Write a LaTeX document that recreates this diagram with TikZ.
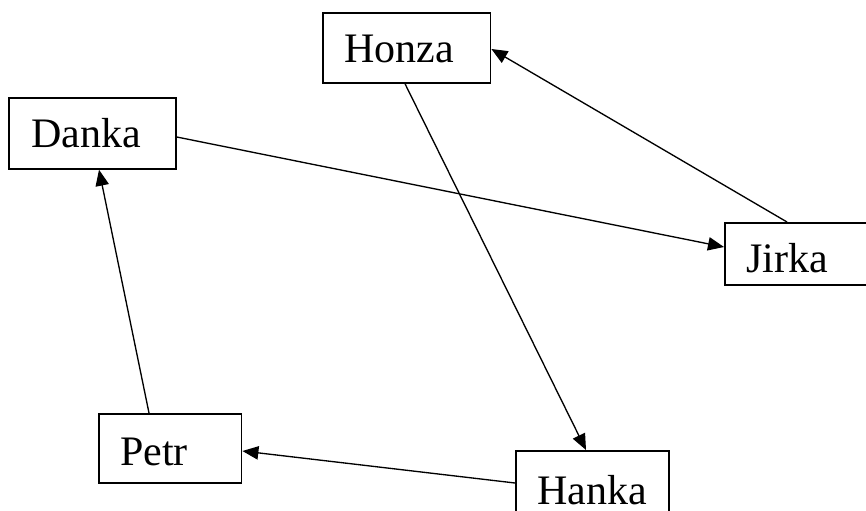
\documentclass[tikz,border=0pt]{standalone}
\usepackage{fontspec}
\setmainfont{Liberation Serif}
\usepackage{tikz}
\usetikzlibrary{arrows.meta,calc}

\begin{document}
\begin{tikzpicture}[
  x=0.75pt,y=-0.75pt,
  >={Triangle[length=12pt,width=10pt]},
  box/.style={draw,line width=1.3pt,rectangle,anchor=north west,align=left,
    inner xsep=16pt,inner ysep=0pt,text height=37.5pt,text depth=15pt,
    font=\fontsize{31.5}{36}\selectfont},
  flow/.style={->,line width=1pt}
]
\clip (0,0) rectangle (866,510);
\fill[white] (0,0) rectangle (866,510);
% people, placed by their top left corners
\node[box,text width=93.75pt] (honza) at (322,12) {Honza};
\node[box,text width=91.25pt,text depth=15.75pt,inner xsep=17pt] (danka) at (8,97) {Danka};
\node[box,text width=85pt,text depth=9pt] (jirka) at (724,222) {Jirka};
\node[box,text width=75pt,text height=39pt,text depth=12.75pt] (petr) at (98,413) {Petr};
\node[box,text width=83pt,text height=40pt] (hanka) at (515,450) {Hanka};
% who points at whom
\draw[flow] ($(jirka.north west)+(63,0)$) -- ($(honza.north east)+(0,37)$);
\draw[flow] ($(danka.north east)+(0,40)$) -- ($(jirka.north west)+(0,25)$);
\draw[flow] ($(honza.south west)+(83,0)$) -- ($(hanka.north west)+(71,0)$);
\draw[flow] ($(hanka.north west)+(0,33)$) -- ($(petr.north east)+(0,38)$);
\draw[flow] ($(petr.north west)+(51,0)$) -- ($(danka.south west)+(91,0)$);
\end{tikzpicture}
\end{document}
